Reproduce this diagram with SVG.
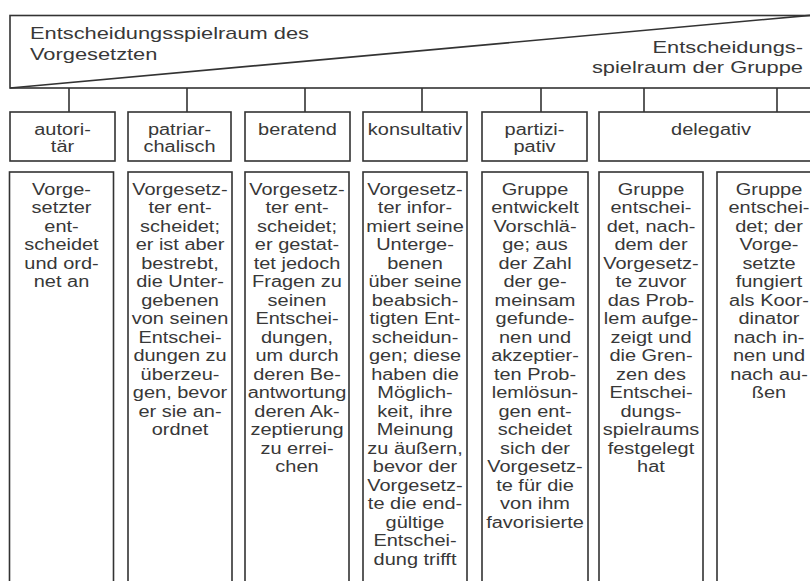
<svg xmlns="http://www.w3.org/2000/svg" width="810" height="581" viewBox="0 0 810 581">
<style>
.box{fill:#fff;stroke:#333;stroke-width:1.6}
.ln{stroke:#333;stroke-width:1.6;fill:none}
.t{font-family:"Liberation Sans",Arial,Helvetica,sans-serif;font-size:15.6px;fill:#383838;text-anchor:middle}
.h{font-family:"Liberation Sans",Arial,Helvetica,sans-serif;font-size:16.8px;fill:#383838}
</style>
<rect width="810" height="581" fill="#fff"/>
<g id="top">
<rect class="box" x="10" y="15.5" width="806" height="72.5"/>
<line class="ln" x1="10" y1="88" x2="814" y2="15"/>
<text class="h" transform="matrix(1.3 0 0 1 30 0)"><tspan x="0" y="39.5">Entscheidungsspielraum des</tspan><tspan x="0" y="60">Vorgesetzten</tspan></text>
<text class="h" text-anchor="end" transform="matrix(1.3 0 0 1 803 0)"><tspan x="0" y="53">Entscheidungs-</tspan><tspan x="0" y="73">spielraum der Gruppe</tspan></text>
</g>
<g id="connectors">
<line class="ln" x1="69" y1="88" x2="69" y2="112"/>
<line class="ln" x1="187" y1="88" x2="187" y2="112"/>
<line class="ln" x1="305" y1="88" x2="305" y2="112"/>
<line class="ln" x1="422" y1="88" x2="422" y2="112"/>
<line class="ln" x1="541" y1="88" x2="541" y2="112"/>
<line class="ln" x1="644" y1="88" x2="644" y2="112"/>
<line class="ln" x1="777" y1="88" x2="777" y2="112"/>
</g>
<g id="h-autoritaer">
<rect class="box" x="10" y="112" width="105" height="49"/>
<text class="t" transform="matrix(1.28 0 0 1 62.5 0)"><tspan x="0" y="135">autori-</tspan><tspan x="0" y="152">tär</tspan></text>
</g>
<g id="h-patriarchalisch">
<rect class="box" x="128" y="112" width="103" height="49"/>
<text class="t" transform="matrix(1.28 0 0 1 179.5 0)"><tspan x="0" y="135">patriar-</tspan><tspan x="0" y="152">chalisch</tspan></text>
</g>
<g id="h-beratend">
<rect class="box" x="245" y="112" width="105" height="49"/>
<text class="t" transform="matrix(1.28 0 0 1 297.5 0)"><tspan x="0" y="135">beratend</tspan></text>
</g>
<g id="h-konsultativ">
<rect class="box" x="363" y="112" width="104" height="49"/>
<text class="t" transform="matrix(1.28 0 0 1 415 0)"><tspan x="0" y="135">konsultativ</tspan></text>
</g>
<g id="h-partizipativ">
<rect class="box" x="482" y="112" width="105" height="49"/>
<text class="t" transform="matrix(1.28 0 0 1 534.5 0)"><tspan x="0" y="135">partizi-</tspan><tspan x="0" y="152">pativ</tspan></text>
</g>
<g id="h-delegativ">
<rect class="box" x="599" y="112" width="224" height="49"/>
<text class="t" transform="matrix(1.28 0 0 1 711 0)"><tspan x="0" y="135">delegativ</tspan></text>
</g>
<g id="c-autoritaer">
<rect class="box" x="9.5" y="172" width="104" height="420"/>
<text class="t" transform="matrix(1.28 0 0 1 61.5 0)"><tspan x="0" y="195">Vorge-</tspan><tspan x="0" y="213.5">setzter</tspan><tspan x="0" y="232">ent-</tspan><tspan x="0" y="250.5">scheidet</tspan><tspan x="0" y="269">und ord-</tspan><tspan x="0" y="287.5">net an</tspan></text>
</g>
<g id="c-patriarchalisch">
<rect class="box" x="128" y="172" width="104" height="420"/>
<text class="t" transform="matrix(1.28 0 0 1 180 0)"><tspan x="0" y="195">Vorgesetz-</tspan><tspan x="0" y="213.5">ter ent-</tspan><tspan x="0" y="232">scheidet;</tspan><tspan x="0" y="250.5">er ist aber</tspan><tspan x="0" y="269">bestrebt,</tspan><tspan x="0" y="287.5">die Unter-</tspan><tspan x="0" y="306">gebenen</tspan><tspan x="0" y="324.5">von seinen</tspan><tspan x="0" y="343">Entschei-</tspan><tspan x="0" y="361.5">dungen zu</tspan><tspan x="0" y="380">überzeu-</tspan><tspan x="0" y="398.5">gen, bevor</tspan><tspan x="0" y="417">er sie an-</tspan><tspan x="0" y="435.5">ordnet</tspan></text>
</g>
<g id="c-beratend">
<rect class="box" x="245" y="172" width="104" height="420"/>
<text class="t" transform="matrix(1.28 0 0 1 297 0)"><tspan x="0" y="195">Vorgesetz-</tspan><tspan x="0" y="213.5">ter ent-</tspan><tspan x="0" y="232">scheidet;</tspan><tspan x="0" y="250.5">er gestat-</tspan><tspan x="0" y="269">tet jedoch</tspan><tspan x="0" y="287.5">Fragen zu</tspan><tspan x="0" y="306">seinen</tspan><tspan x="0" y="324.5">Entschei-</tspan><tspan x="0" y="343">dungen,</tspan><tspan x="0" y="361.5">um durch</tspan><tspan x="0" y="380">deren Be-</tspan><tspan x="0" y="398.5">antwortung</tspan><tspan x="0" y="417">deren Ak-</tspan><tspan x="0" y="435.5">zeptierung</tspan><tspan x="0" y="454">zu errei-</tspan><tspan x="0" y="472.5">chen</tspan></text>
</g>
<g id="c-konsultativ">
<rect class="box" x="363" y="172" width="104" height="420"/>
<text class="t" transform="matrix(1.28 0 0 1 415 0)"><tspan x="0" y="195">Vorgesetz-</tspan><tspan x="0" y="213.5">ter infor-</tspan><tspan x="0" y="232">miert seine</tspan><tspan x="0" y="250.5">Unterge-</tspan><tspan x="0" y="269">benen</tspan><tspan x="0" y="287.5">über seine</tspan><tspan x="0" y="306">beabsich-</tspan><tspan x="0" y="324.5">tigten Ent-</tspan><tspan x="0" y="343">scheidun-</tspan><tspan x="0" y="361.5">gen; diese</tspan><tspan x="0" y="380">haben die</tspan><tspan x="0" y="398.5">Möglich-</tspan><tspan x="0" y="417">keit, ihre</tspan><tspan x="0" y="435.5">Meinung</tspan><tspan x="0" y="454">zu äußern,</tspan><tspan x="0" y="472.5">bevor der</tspan><tspan x="0" y="491">Vorgesetz-</tspan><tspan x="0" y="509.5">te die end-</tspan><tspan x="0" y="528">gültige</tspan><tspan x="0" y="546.5">Entschei-</tspan><tspan x="0" y="565">dung trifft</tspan></text>
</g>
<g id="c-partizipativ">
<rect class="box" x="482" y="172" width="106" height="420"/>
<text class="t" transform="matrix(1.28 0 0 1 535 0)"><tspan x="0" y="195">Gruppe</tspan><tspan x="0" y="213.5">entwickelt</tspan><tspan x="0" y="232">Vorschlä-</tspan><tspan x="0" y="250.5">ge; aus</tspan><tspan x="0" y="269">der Zahl</tspan><tspan x="0" y="287.5">der ge-</tspan><tspan x="0" y="306">meinsam</tspan><tspan x="0" y="324.5">gefunde-</tspan><tspan x="0" y="343">nen und</tspan><tspan x="0" y="361.5">akzeptier-</tspan><tspan x="0" y="380">ten Prob-</tspan><tspan x="0" y="398.5">lemlösun-</tspan><tspan x="0" y="417">gen ent-</tspan><tspan x="0" y="435.5">scheidet</tspan><tspan x="0" y="454">sich der</tspan><tspan x="0" y="472.5">Vorgesetz-</tspan><tspan x="0" y="491">te für die</tspan><tspan x="0" y="509.5">von ihm</tspan><tspan x="0" y="528">favorisierte</tspan></text>
</g>
<g id="c-delegativ-1">
<rect class="box" x="599" y="172" width="104" height="420"/>
<text class="t" transform="matrix(1.28 0 0 1 651 0)"><tspan x="0" y="195">Gruppe</tspan><tspan x="0" y="213.5">entschei-</tspan><tspan x="0" y="232">det, nach-</tspan><tspan x="0" y="250.5">dem der</tspan><tspan x="0" y="269">Vorgesetz-</tspan><tspan x="0" y="287.5">te zuvor</tspan><tspan x="0" y="306">das Prob-</tspan><tspan x="0" y="324.5">lem aufge-</tspan><tspan x="0" y="343">zeigt und</tspan><tspan x="0" y="361.5">die Gren-</tspan><tspan x="0" y="380">zen des</tspan><tspan x="0" y="398.5">Entschei-</tspan><tspan x="0" y="417">dungs-</tspan><tspan x="0" y="435.5">spielraums</tspan><tspan x="0" y="454">festgelegt</tspan><tspan x="0" y="472.5">hat</tspan></text>
</g>
<g id="c-delegativ-2">
<rect class="box" x="717" y="172" width="104" height="420"/>
<text class="t" transform="matrix(1.28 0 0 1 769 0)"><tspan x="0" y="195">Gruppe</tspan><tspan x="0" y="213.5">entschei-</tspan><tspan x="0" y="232">det; der</tspan><tspan x="0" y="250.5">Vorge-</tspan><tspan x="0" y="269">setzte</tspan><tspan x="0" y="287.5">fungiert</tspan><tspan x="0" y="306">als Koor-</tspan><tspan x="0" y="324.5">dinator</tspan><tspan x="0" y="343">nach in-</tspan><tspan x="0" y="361.5">nen und</tspan><tspan x="0" y="380">nach au-</tspan><tspan x="0" y="398.5">ßen</tspan></text>
</g>
</svg>
